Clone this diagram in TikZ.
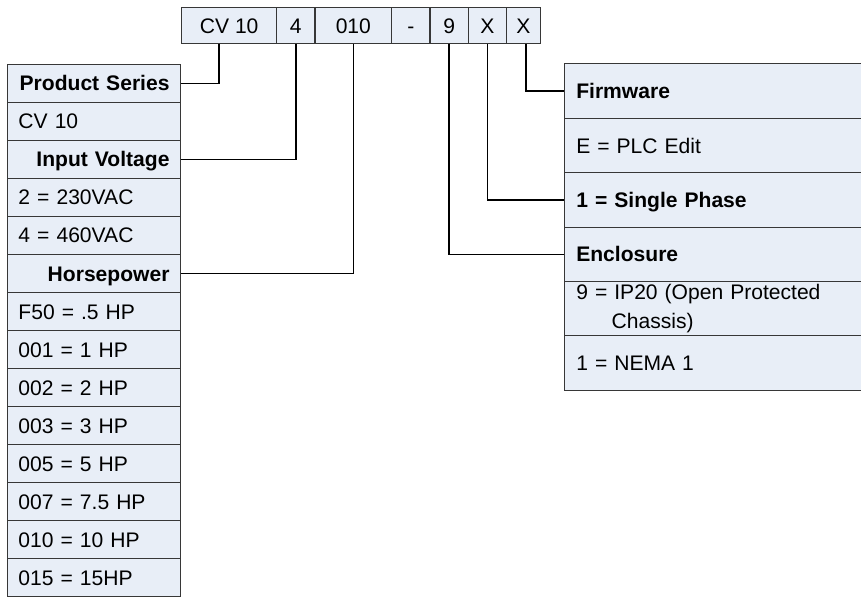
\documentclass[tikz,border=0pt]{standalone}
\usepackage{fontspec}
\setmainfont{Liberation Sans}
\definecolor{cellfill}{RGB}{232,238,247}
\definecolor{cellline}{RGB}{55,55,55}
\begin{document}
\begin{tikzpicture}[x=0.75pt,y=-0.75pt,
  txt/.style={font=\fontsize{15.8pt}{21.5pt}\selectfont},
  txtb/.style={font=\fontsize{15.8pt}{21.5pt}\selectfont\bfseries},
  base/.style={draw=cellline, fill=cellfill, line width=0.75pt, outer sep=0pt, anchor=north west, txt},
  one/.style={text height=11.3pt, text depth=0pt},
  topcell/.style={base, one, inner sep=0pt, minimum height=27.5pt},
  lcell/.style={base, one, inner xsep=8.4pt, inner ysep=0pt, text width=113.25pt, minimum height=28.52pt, align=left},
  lhead/.style={lcell, align=right, txtb},
  rcell/.style={base, inner xsep=9pt, inner ysep=0pt, text width=205.3pt, minimum height=40.8pt, align=left},
  rone/.style={rcell, one},
  rhead/.style={rcell, one, txtb},
  link/.style={draw=black, line width=1.1pt}
]
\useasboundingbox (0,0) rectangle (861,602);
\fill[white] (0,0) rectangle (861,602);

% top code boxes
\node[topcell, minimum width=71.25pt] (t1) at (181.7,7.3) {CV 10};
\node[topcell, minimum width=28.7pt]  (t2) at (276.7,7.3) {4};
\node[topcell, minimum width=57.5pt]  (t3) at (315,7.3) {010};
\node[topcell, minimum width=28.7pt]  (t4) at (391.7,7.3) {-};
\node[topcell, minimum width=28.7pt]  (t5) at (430,7.3) {9};
\node[topcell, minimum width=28.8pt]  (t6) at (468.3,7.3) {X};
\node[topcell, minimum width=25pt]    (t7) at (506.7,7.3) {X};

% left column
\node[lhead] (ps)  at (7.3,64.3)  {Product Series};
\node[lcell] (cv)  at (7.3,102.3) {CV 10};
\node[lhead] (iv)  at (7.3,140.4) {Input Voltage};
\node[lcell] (v2)  at (7.3,178.4) {2 = 230VAC};
\node[lcell] (v4)  at (7.3,216.4) {4 = 460VAC};
\node[lhead] (hp)  at (7.3,254.5) {Horsepower};
\node[lcell] (f50) at (7.3,292.5) {F50 = .5 HP};
\node[lcell] (h1)  at (7.3,330.5) {001 = 1 HP};
\node[lcell] (h2)  at (7.3,368.5) {002 = 2 HP};
\node[lcell] (h3)  at (7.3,406.6) {003 = 3 HP};
\node[lcell] (h5)  at (7.3,444.6) {005 = 5 HP};
\node[lcell] (h7)  at (7.3,482.6) {007 = 7.5 HP};
\node[lcell] (h10) at (7.3,520.7) {010 = 10 HP};
\node[lcell] (h15) at (7.3,558.7) {015 = 15HP};

% right column
\node[rhead] (fw)  at (564.3,64)    {Firmware};
\node[rone]  (ed)  at (564.3,118.4) {E = PLC Edit};
\node[rhead] (sp)  at (564.3,172.8) {1 = Single Phase};
\node[rhead] (enc) at (564.3,227.2) {Enclosure};
\node[rcell] (ip)  at (564.3,281.6) {9 = IP20 (Open Protected\\\hspace*{26.5pt}Chassis)};
\node[rone]  (nm)  at (564.3,336)   {1 = NEMA 1};

% connectors
\draw[link] ([xshift=-7.65pt]t1.south) |- (ps.east);
\draw[link] (t2.south) |- (iv.east);
\draw[link] (t3.south) |- (hp.east);
\draw[link] (t5.south) |- (enc.west);
\draw[link] (t6.south) |- (sp.west);
\draw[link] ([xshift=2pt]t7.south) |- (fw.west);
\end{tikzpicture}
\end{document}
